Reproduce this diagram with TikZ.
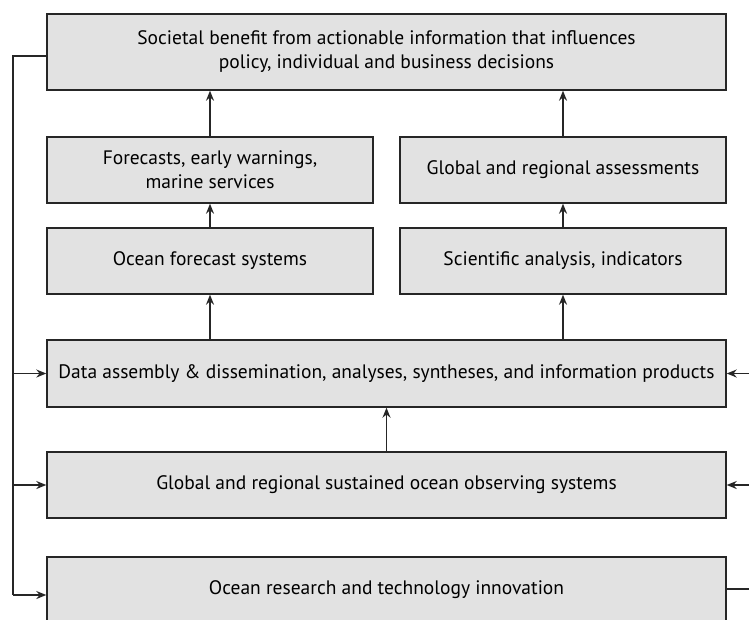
\documentclass[tikz,border=0pt]{standalone}
\usepackage{fontspec}
\setmainfont{PT Sans}
\usetikzlibrary{arrows.meta}
\definecolor{boxfill}{RGB}{226,226,226}
\begin{document}
\begin{tikzpicture}[x=1pt,y=-1pt,
  box/.style={draw=black!85, line width=1.4pt, fill=boxfill, inner sep=0pt, align=center,
    font=\fontsize{19.5}{24}\selectfont},
  arr/.style={line width=1.4pt, draw=black!85, -{Stealth[length=10pt,width=8pt]}},
  ln/.style={line width=1.4pt, draw=black!85}]
\useasboundingbox (0,0) rectangle (749,619);
\clip (0,0) rectangle (749,619);
\node[box, minimum width=679pt, minimum height=76pt] (top) at (386.5,52) {Societal benefit from actionable information that influences\\policy, individual and business decisions};
\node[box, minimum width=326pt, minimum height=66pt] (fore) at (210,170) {Forecasts, early warnings,\\marine services};
\node[box, minimum width=326pt, minimum height=66pt] (assess) at (563,170) {Global and regional assessments};
\node[box, minimum width=326pt, minimum height=66pt] (ofs) at (210,261) {Ocean forecast systems};
\node[box, minimum width=326pt, minimum height=66pt] (sci) at (563,261) {Scientific analysis, indicators};
\node[box, minimum width=679pt, minimum height=67pt] (data) at (386.5,373.5) {Data assembly \& dissemination, analyses, syntheses, and information products};
\node[box, minimum width=679pt, minimum height=66pt] (obs) at (386.5,485) {Global and regional sustained ocean observing systems};
\node[box, minimum width=679pt, minimum height=66pt] (res) at (386.5,590) {Ocean research and technology innovation};
% vertical arrows
\draw[arr] (fore.north) -- (fore.north |- top.south);
\draw[arr] (assess.north) -- (assess.north |- top.south);
\draw[arr] (ofs.north) -- (fore.south);
\draw[arr] (sci.north) -- (assess.south);
\draw[arr] (ofs.south |- data.north) -- (ofs.south);
\draw[arr] (sci.south |- data.north) -- (sci.south);
\draw[arr] (obs.north) -- (data.south);
% left loop
\coordinate (lt) at (13,56);
\coordinate (lb) at (13,595);
\draw[ln] (top.west |- lt) -- (lt) -- (lb);
\draw[arr] (lb) -- (lb -| res.west);
\draw[arr] (lt |- data) -- (data.west);
\draw[arr] (lt |- obs) -- (obs.west);
% right loop
\coordinate (rb) at (770,589);
\coordinate (rt) at (770,373.5);
\draw[ln] (res.east |- rb) -- (rb) -- (rt);
\draw[arr] (rt) -- (data.east);
\draw[arr] (rt |- obs) -- (obs.east);
\end{tikzpicture}
\end{document}
